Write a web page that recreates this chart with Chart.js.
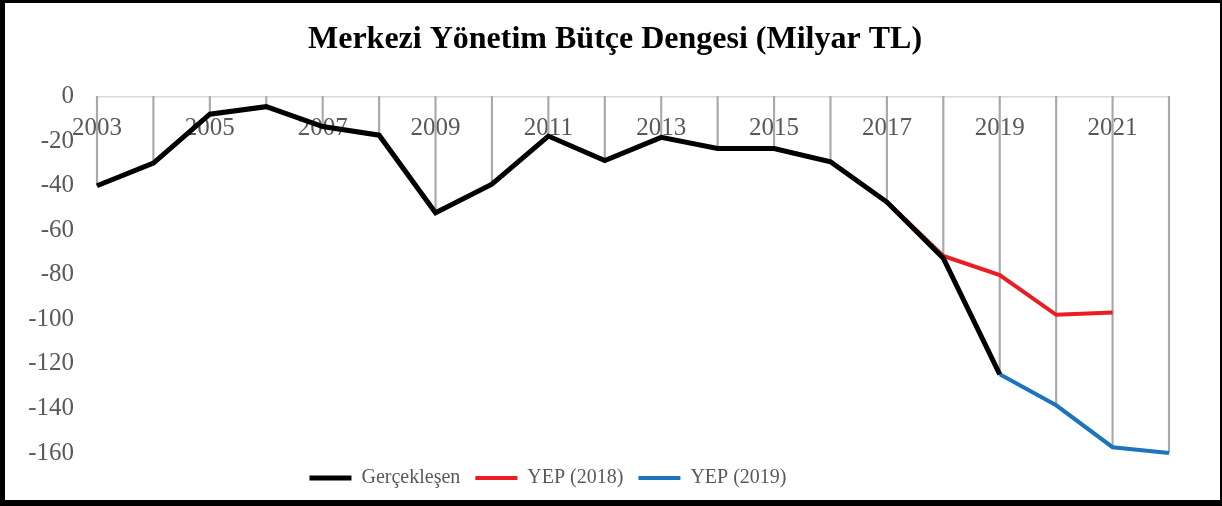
<!DOCTYPE html>
<html>
<head>
<meta charset="utf-8">
<script src="https://cdn.jsdelivr.net/npm/chart.js@4.4.0/dist/chart.umd.min.js"></script>
<style>
    html, body { margin: 0; padding: 0; background: #fff; }
    #wrap { position: relative; width: 1222px; height: 506px; }
    #graph { position: absolute; left: 0; top: 0; }
    #frame {
        position: absolute; left: 0; top: 0; width: 1222px; height: 506px;
        box-sizing: border-box; pointer-events: none;
        border-style: solid; border-color: #000;
        border-width: 3px 2px 6px 5px;
    }
</style>
</head>
<body>
<div id="wrap">
    <canvas id="graph" width="1222" height="506"></canvas>
    <div id="frame"></div>
</div>
<script>
const years = ['2003', '2004', '2005', '2006', '2007', '2008', '2009', '2010', '2011', '2012',
               '2013', '2014', '2015', '2016', '2017', '2018', '2019', '2020', '2021', '2022'];

// Gerçekleşen (actual)
const actual = [-40.1, -29.9, -8.0, -4.6, -13.5, -17.4, -52.2, -39.4, -17.8, -28.8,
                -18.4, -23.4, -23.4, -29.3, -47.4, -72.6, -124.7, null, null, null];

// YEP (2018)
const yep2018 = [null, null, null, null, null, null, null, null, null, null,
                 null, null, -23.4, -29.3, -47.4, -71.6, -80.2, -98.0, -97.0, null];

// YEP (2019)
const yep2019 = [null, null, null, null, null, null, null, null, null, null,
                 null, null, null, null, null, null, -124.7, -138.6, -157.4, -160.0];

const yTicks = { min: -160, max: 0, step: 20 };

const serif = '"Liberation Serif", "DejaVu Serif", serif';
const tickColor = '#595959';

// vertical drop lines from the zero axis down to the lowest series value
const dropLines = years.map((_, i) => {
    const vals = [actual[i], yep2018[i], yep2019[i]].filter(v => v !== null);
    return [0, Math.min(...vals)];
});

// the legend sits a bit left of centre in the original
const shiftLegend = {
    id: 'shiftLegend',
    afterLayout(chart) {
        chart.legend.right -= 134;
    }
};

new Chart(document.getElementById('graph'), {
    type: 'line',
    data: {
        labels: years,
        datasets: [
            {
                label: 'Gerçekleşen',
                data: actual,
                borderColor: '#000000',
                backgroundColor: '#000000',
                borderWidth: 5,
                pointRadius: 0,
                clip: false
            },
            {
                label: 'YEP (2018)',
                data: yep2018,
                borderColor: '#ED1C24',
                backgroundColor: '#ED1C24',
                borderWidth: 4,
                pointRadius: 0,
                clip: false
            },
            {
                label: 'YEP (2019)',
                data: yep2019,
                borderColor: '#1E73BE',
                backgroundColor: '#1E73BE',
                borderWidth: 4,
                pointRadius: 0,
                clip: false
            },
            {
                type: 'bar',
                label: 'drop',
                data: dropLines,
                backgroundColor: '#A9A9A9',
                borderWidth: 0,
                barThickness: 1.5,
                order: 1,
                clip: false
            }
        ]
    },
    options: {
        responsive: false,
        animation: false,
        layout: {
            padding: { left: 8, right: 0, top: 4, bottom: 8 }
        },
        plugins: {
            title: {
                display: true,
                text: 'Merkezi Yönetim Bütçe Dengesi (Milyar TL)',
                color: '#000000',
                font: { family: serif, size: 32, weight: 'bold' },
                padding: { top: 17, bottom: 37 }
            },
            legend: {
                position: 'bottom',
                labels: {
                    filter: item => item.text !== 'drop',
                    usePointStyle: true,
                    pointStyle: 'line',
                    pointStyleWidth: 42,
                    color: tickColor,
                    font: { family: serif, size: 20 },
                    padding: 15
                }
            },
            tooltip: { enabled: false }
        },
        scales: {
            x: {
                type: 'category',
                position: { y: 0 },
                offset: false,
                grid: { display: false, drawTicks: false },
                border: { display: true, color: '#D9D9D9', width: 1.5 },
                ticks: {
                    autoSkip: false,
                    maxRotation: 0,
                    padding: 17,
                    color: tickColor,
                    font: { family: serif, size: 25 },
                    callback: (value, index) => index % 2 === 0 ? years[index] : ''
                }
            },
            y: {
                min: yTicks.min,
                max: yTicks.max,
                grid: { display: false, drawTicks: false },
                border: { display: false },
                afterFit: scale => { scale.width = 89; },
                ticks: {
                    stepSize: yTicks.step,
                    padding: 23,
                    color: tickColor,
                    font: { family: serif, size: 25 }
                }
            },
            // empty right-hand margin
            yRight: {
                position: 'right',
                min: yTicks.min,
                max: yTicks.max,
                grid: { display: false, drawTicks: false },
                border: { display: false },
                ticks: { display: false },
                afterFit: scale => { scale.width = 53; }
            }
        }
    },
    plugins: [shiftLegend]
});
</script>
</body>
</html>
